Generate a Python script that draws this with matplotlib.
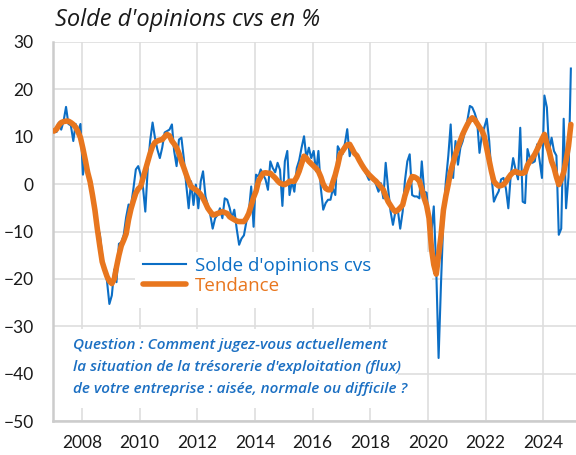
import numpy as np
import pandas as pd
import matplotlib
matplotlib.use('Agg')
import matplotlib.pyplot as plt
import matplotlib.dates as mdates
from matplotlib.patches import Rectangle

# monthly values, one row per year (2007 .. 2024)
solde = [
    11.6, 11.0, 13.0, 11.5, 13.3, 16.3, 12.7, 12.4, 9.1, 12.7, 11.2, 12.7,
    2.0, 5.5, 3.5, 0.6, -2.0, -4.3, -9.4, -10.4, -15.0, -18.0, -20.5, -25.3,
    -23.5, -18.0, -20.7, -12.6, -12.3, -10.7, -7.0, -4.3, -4.5, -1.0, 3.1, 3.8,
    2.0, -0.9, -5.8, 3.4, 9.1, 13.0, 9.8, 7.3, 5.5, 7.7, 10.9, 11.2,
    11.5, 12.6, 7.0, 3.8, 9.4, 9.8, 5.5, -0.1, -5.1, 0.6, -4.4, -0.1,
    -5.1, 0.6, 2.7, -2.6, -4.5, -6.5, -9.4, -7.2, -6.5, -5.1, -7.2, -3.0,
    -3.3, -5.0, -7.2, -5.4, -9.4, -12.8, -11.5, -10.8, -7.9, -6.0, -0.5, -9.0,
    2.0, 1.6, 3.1, 2.0, 1.0, -1.2, 4.8, 3.4, 2.5, 4.5, 3.0, -4.6,
    4.8, 7.0, -2.3, 0.6, -1.6, 3.4, 5.0, 7.7, 10.1, 5.5, 7.7, 5.5,
    7.0, 2.7, 7.0, -0.9, -5.4, -4.0, -3.3, -3.3, -0.9, -2.3, 8.0, 7.0,
    6.3, 8.7, 11.6, 5.9, 8.0, 7.0, 6.0, 4.8, 3.8, 3.0, 2.0, 0.9,
    1.6, 1.0, -0.1, -1.6, 0.2, -3.0, 4.5, -1.0, -5.8, -8.6, -5.8, -5.4,
    -9.4, -5.8, 0.6, 4.8, 6.3, -2.3, -2.6, -2.6, -3.0, 4.8, -1.6, -1.8,
    -7.9, -10.0, -4.7, -17.9, -36.7, -20.7, -7.2, 0.6, 6.0, 12.6, 1.3, 9.1,
    4.1, 7.7, 9.0, 11.2, 13.5, 16.5, 16.2, 15.0, 13.3, 6.6, 10.5, 12.0,
    13.8, 9.1, 2.0, -3.7, -2.5, -1.5, 1.0, 1.3, -1.0, -5.1, 2.0, 5.5,
    3.0, 1.0, 11.9, -3.7, -4.0, 7.4, 5.5, 4.5, 4.8, 8.4, 5.0, 1.3,
    18.7, 16.2, 7.0, 9.8, 7.0, 6.0, -10.7, -9.4, 13.8, -5.1, 1.5, 24.4,
]

tendance = [
    11.2, 11.6, 12.4, 13.0, 13.2, 13.3, 13.3, 13.0, 12.6, 12.0, 11.0, 9.8,
    7.5, 5.0, 2.5, 0.5, -2.3, -5.5, -9.4, -13.0, -16.4, -18.0, -19.5, -20.5,
    -21.0, -20.0, -17.5, -15.0, -13.0, -11.8, -10.5, -7.5, -5.2, -3.5, -1.9, -1.0,
    -0.5, 1.3, 3.0, 4.8, 6.5, 8.0, 8.8, 9.1, 9.3, 9.4, 10.0, 10.5,
    10.2, 9.1, 8.5, 7.7, 6.5, 4.8, 3.5, 2.0, 0.6, -0.5, -0.9, -1.2,
    -1.6, -2.2, -3.0, -4.0, -5.1, -5.8, -6.5, -6.4, -6.2, -6.0, -5.8, -6.0,
    -6.2, -6.9, -7.2, -7.5, -7.8, -7.9, -7.9, -7.9, -7.2, -6.2, -4.5, -2.8,
    -1.5, 0.6, 1.5, 2.3, 2.4, 2.3, 2.3, 1.8, 1.3, 0.7, 0.2, 0.0,
    -0.1, 0.2, 0.6, 0.6, 0.6, 1.5, 2.7, 4.3, 5.9, 5.5, 4.8, 4.3,
    3.8, 3.3, 2.7, 1.5, 0.0, -0.9, -1.2, -1.2, 0.5, 2.0, 4.0, 6.3,
    7.0, 7.8, 8.3, 8.4, 7.5, 6.5, 6.0, 5.0, 4.1, 3.3, 2.6, 2.0,
    1.5, 1.0, 0.6, 0.0, -0.6, -1.2, -2.5, -3.7, -4.5, -5.3, -5.8, -5.5,
    -5.0, -4.4, -2.5, -0.9, 0.5, 1.6, 1.5, 1.2, 0.6, -1.0, -3.0, -4.5,
    -7.2, -13.6, -17.0, -19.0, -15.0, -10.8, -5.5, -2.5, 0.0, 2.7, 4.5, 6.3,
    7.8, 9.2, 10.5, 11.6, 12.6, 13.5, 14.0, 13.6, 12.8, 12.0, 11.3, 10.0,
    7.5, 5.0, 2.7, 0.6, 0.0, -0.4, -0.3, -0.1, 0.5, 1.3, 2.0, 2.5,
    2.7, 2.4, 2.3, 2.3, 2.5, 4.0, 4.8, 5.5, 6.3, 7.3, 8.4, 9.5,
    10.5, 8.5, 7.0, 4.8, 3.5, 1.5, -0.1, 1.0, 2.5, 5.0, 8.0, 12.6,
]

dates = pd.date_range('2007-01-01', periods=len(solde), freq='MS') + pd.Timedelta(days=14)

question = ("Question : Comment jugez-vous actuellement\n"
            "la situation de la trésorerie d'exploitation (flux)\n"
            "de votre entreprise : aisée, normale ou difficile ?")

BLUE = '#0B6EC5'
ORANGE = '#E8761E'
WIDE = ['Open Sans', 'DejaVu Sans']

plt.rcParams['font.family'] = ['Lato', 'DejaVu Sans']

fig = plt.figure(figsize=(5.76, 4.55), dpi=100)
ax = fig.add_axes([53/576, 34/455, 523/576, 379/455])

ax.set_axisbelow(True)
ax.grid(True, color='#dedede', lw=1.2)

# white boxes behind legend and question text
ax.add_patch(Rectangle((0.157, 0.298), 0.567, 0.148, transform=ax.transAxes,
                       facecolor='white', edgecolor='none', zorder=1))
ax.add_patch(Rectangle((0.0, 0.034), 0.66, 0.21, transform=ax.transAxes,
                       facecolor='white', edgecolor='none', zorder=1))

ax.plot(dates, solde, color=BLUE, lw=1.5, label="Solde d'opinions cvs", zorder=2)
ax.plot(dates, tendance, color=ORANGE, lw=4, label='Tendance', zorder=3,
        solid_joinstyle='round', solid_capstyle='round')

ax.set_ylim(-50, 30)
ax.set_yticks(range(-50, 31, 10))
ax.set_xlim(pd.Timestamp('2007-01-01'), pd.Timestamp('2025-02-18'))
ax.xaxis.set_major_locator(mdates.YearLocator(2))
ax.xaxis.set_major_formatter(mdates.DateFormatter('%Y'))

for s in ['top', 'right']:
    ax.spines[s].set_visible(False)
for s in ['left', 'bottom']:
    ax.spines[s].set_color('#cccccc')
    ax.spines[s].set_linewidth(1.8)
ax.tick_params(axis='both', length=0, labelsize=12.5, colors='#1a1a1a')
ax.tick_params(axis='y', pad=14)
ax.tick_params(axis='x', pad=10)

leg = ax.legend(loc='center left', bbox_to_anchor=(0.172, 0.383), frameon=False,
                prop={'family': WIDE, 'size': 13.5},
                handlelength=2.3, handletextpad=0.45,
                labelspacing=0.1, borderpad=0, borderaxespad=0,
                labelcolor='linecolor')
leg.set_zorder(5)

ax.text(0.038, 0.142, question, transform=ax.transAxes, ha='left', va='center',
        fontsize=11, family=WIDE, style='italic', fontweight='semibold',
        color='#1B6FC2', linespacing=1.75, zorder=6)

fig.text(55/576, 1 - 20/455, "Solde d'opinions cvs en %", ha='left', va='center',
         fontsize=17, family=WIDE, style='italic', color='#1a1a1a')

fig.savefig('out.png', dpi=100)
